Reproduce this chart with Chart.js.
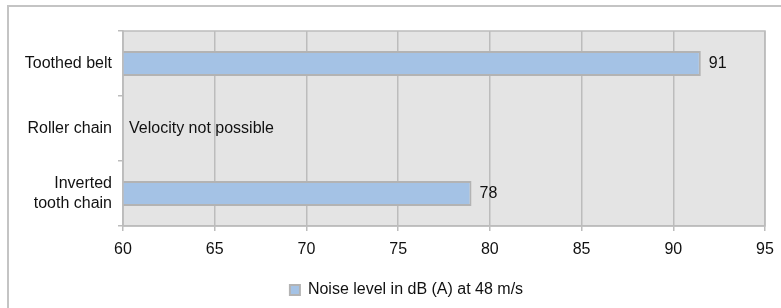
<!DOCTYPE html>
<html>
<head>
<meta charset="utf-8">
<script src="https://cdn.jsdelivr.net/npm/chart.js@4"></script>
<style>
  html, body { margin: 0; padding: 0; background: #fff; }
  #wrap { position: relative; width: 781px; height: 308px; overflow: hidden; }
  #frame { position: absolute; left: 7px; top: 5px; width: 820px; height: 340px; border: 2px solid #c4c4c4; }
  #chart { position: absolute; left: 0; top: 0; }
</style>
</head>
<body>
<div id="wrap">
  <div id="frame"></div>
  <canvas id="chart" width="781" height="308"></canvas>
</div>
<script>
// categorias e valores
const categorias = ['Toothed belt', 'Roller chain', ['Inverted', 'tooth chain']];
const nivelRuido = [91.5, null, 79];
const rotulosValor = ['91', 'Velocity not possible', '78'];
const nomeSerie = 'Noise level in dB (A) at 48 m/s';
const eixoMin = 60;
const eixoMax = 95;
const eixoPasso = 5;

const corGrade = '#bcbcbc';

// fundo cinza e moldura da área do gráfico
const fundoArea = {
    id: 'fundoArea',
    afterLayout(chart) {
        // legenda um pouco deslocada para a direita, como no original
        if (chart.legend) chart.legend.left += 48;
    },
    beforeDraw(chart) {
        const { ctx, chartArea: a } = chart;
        ctx.save();
        ctx.fillStyle = '#e4e4e4';
        ctx.fillRect(a.left, a.top, a.right - a.left, a.bottom - a.top);
        ctx.restore();
    },
    afterDatasetsDraw(chart) {
        const { ctx, chartArea: a } = chart;
        ctx.save();
        ctx.strokeStyle = corGrade;
        ctx.lineWidth = 1.5;
        ctx.strokeRect(a.left, a.top, a.right - a.left, a.bottom - a.top);
        ctx.restore();
    }
};

// rótulos ao lado das barras
const rotulos = {
    id: 'rotulos',
    afterDatasetsDraw(chart) {
        const { ctx } = chart;
        const meta = chart.getDatasetMeta(0);
        const xScale = chart.scales.x;
        ctx.save();
        ctx.font = '16px "Liberation Sans", Arial, sans-serif';
        ctx.fillStyle = '#111';
        ctx.textBaseline = 'middle';
        ctx.textAlign = 'left';
        meta.data.forEach((bar, i) => {
            const v = nivelRuido[i];
            const x = v == null ? xScale.getPixelForValue(eixoMin) + 6 : bar.x + 8;
            ctx.fillText(rotulosValor[i], x, bar.y);
        });
        ctx.restore();
    }
};

Chart.defaults.font.family = '"Liberation Sans", Arial, sans-serif';
Chart.defaults.font.size = 16;
Chart.defaults.color = '#111';

const ctx = document.getElementById('chart').getContext('2d');
window.chart = new Chart(ctx, {
    type: 'bar',
    data: {
        labels: categorias,
        datasets: [{
            label: nomeSerie,
            data: nivelRuido,
            backgroundColor: '#a4c2e5',
            borderColor: '#b3b3b3',
            borderWidth: 2,
            borderSkipped: false,
            categoryPercentage: 1,
            barPercentage: 0.385
        }]
    },
    options: {
        indexAxis: 'y',
        responsive: false,
        animation: false,
        layout: { padding: { top: 31, right: 16, left: 0, bottom: 0 } },
        scales: {
            x: {
                min: eixoMin,
                max: eixoMax,
                ticks: { stepSize: eixoPasso, padding: 9, color: '#111' },
                grid: { color: corGrade, lineWidth: 1.5, tickLength: 5, tickColor: corGrade },
                border: { color: corGrade, width: 1.5 },
                afterFit(s) { s.height = 46; s.paddingRight = 0; s.paddingLeft = 0; }
            },
            y: {
                ticks: { padding: 6, color: '#111' },
                grid: { drawOnChartArea: false, tickLength: 5, color: corGrade, lineWidth: 1.5 },
                border: { color: corGrade, width: 1.5 },
                afterFit(s) { s.width = 123; }
            }
        },
        plugins: {
            legend: {
                position: 'bottom',
                labels: { boxWidth: 10, boxHeight: 10, padding: 10, color: '#111', font: { size: 16 } }
            },
            tooltip: { enabled: false }
        }
    },
    plugins: [fundoArea, rotulos]
});
</script>
</body>
</html>
